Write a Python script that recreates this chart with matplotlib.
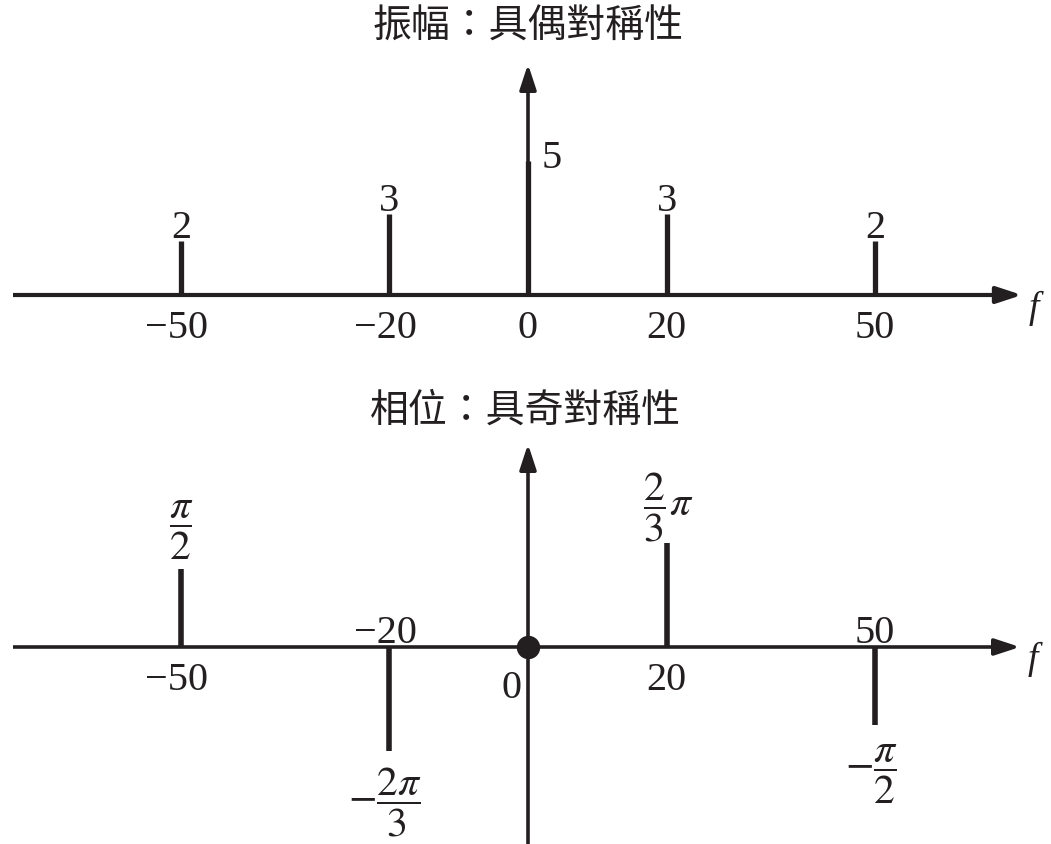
import numpy as np
import matplotlib
matplotlib.use("Agg")
import matplotlib.pyplot as plt

plt.rcParams["mathtext.fontset"] = "stix"

# ---- 資料 ----
amp_freqs = [-50, -20, 0, 20, 50]
amp_values = [2, 3, 5, 3, 2]
amp_labels = ["2", "3", "5", "3", "2"]
freq_labels = ["\u221250", "\u221220", "0", "20", "50"]

phase_freqs = [-50, -20, 0, 20, 50]
phase_values = [np.pi / 2, -2 * np.pi / 3, 0, 2 * np.pi / 3, -np.pi / 2]
phase_labels = [r"$\dfrac{\pi}{2}$", r"$-\dfrac{2\pi}{3}$", "",
                r"$\dfrac{2}{3}\pi$", r"$-\dfrac{\pi}{2}$"]

title_amp = "振幅：具偶對稱性"
title_phase = "相位：具奇對稱性"

# ---- 版面（像素） ----
W, H = 1051, 845
X0 = 528            # f = 0 的位置
PX_F = 6.94         # 每單位頻率的像素
PX_AMP = 26.9       # 振幅每單位像素
PX_PH = 49.7        # 相位每弧度像素
PT = 0.72           # px -> pt

SERIF = "Liberation Serif"
CJK = "Noto Sans CJK TC"
INK = "#231f20"

fig = plt.figure(figsize=(W / 100, H / 100), dpi=100)
fig.patch.set_facecolor("white")

top_h = 400
ax1 = fig.add_axes([0, (H - top_h) / H, 1, top_h / H])
ax2 = fig.add_axes([0, 0, 1, (H - top_h) / H])

xlim = (-X0 / PX_F, (W - X0) / PX_F)
ax1_axis = 296
ax2_axis = 648
ax1.set_xlim(*xlim)
ax1.set_ylim(-(top_h - ax1_axis) / PX_AMP, ax1_axis / PX_AMP)
ax2.set_xlim(*xlim)
ax2.set_ylim(-(H - ax2_axis) / PX_PH, (ax2_axis - top_h) / PX_PH)
for ax in (ax1, ax2):
    ax.axis("off")


def px2f(px):
    return (px - X0) / PX_F


def draw_arrow(ax, start, end, lw):
    ax.annotate("", xy=end, xytext=start,
                arrowprops=dict(arrowstyle="-|>,head_length=0.55,head_width=0.18",
                                mutation_scale=28, lw=lw, color=INK,
                                shrinkA=0, shrinkB=0, capstyle="butt"))


# ---- 上圖：振幅 ----
draw_arrow(ax1, (px2f(13), 0), (px2f(1022), 0), 3.0)
draw_arrow(ax1, (0, 0), (0, (ax1_axis - 65) / PX_AMP), 2.6)
ax1.vlines(amp_freqs, 0, amp_values, color=INK, lw=3.8, capstyle="butt")

for f, v, lab in zip(amp_freqs, amp_values, amp_labels):
    if f == 0:
        ax1.annotate(lab, (f, v), xytext=(14 * PT, -6 * PT), textcoords="offset points",
                     ha="left", va="baseline", fontsize=29, family=SERIF, color=INK)
    else:
        ax1.annotate(lab, (f, v), xytext=(0, 4 * PT), textcoords="offset points",
                     ha="center", va="baseline", fontsize=29, family=SERIF, color=INK)

for f, lab in zip(amp_freqs, freq_labels):
    dx = -4 if f < 0 else 0
    ax1.annotate(lab, (f, 0), xytext=(dx * PT, -42 * PT), textcoords="offset points",
                 ha="center", va="baseline", fontsize=29, family=SERIF, color=INK)

ax1.annotate("f", (px2f(1034), 0), xytext=(0, -12 * PT), textcoords="offset points",
             ha="center", va="center", fontsize=27, family=SERIF, style="italic",
             color=INK)

# ---- 下圖：相位 ----
draw_arrow(ax2, (px2f(13), 0), (px2f(1020), 0), 2.6)
draw_arrow(ax2, (0, ax2.get_ylim()[0]), (0, (ax2_axis - 445) / PX_PH), 2.6)

nz = [i for i, v in enumerate(phase_values) if v != 0]
ax2.vlines([phase_freqs[i] for i in nz], 0, [phase_values[i] for i in nz],
           color=INK, lw=4.0, capstyle="butt")
z = [i for i, v in enumerate(phase_values) if v == 0]
ax2.plot([phase_freqs[i] for i in z], [phase_values[i] for i in z], "o",
         ms=22 * PT, color=INK, zorder=5)

# 數值標籤（分數）
frac_dx = {-50: 0, -20: -4, 20: 1, 50: -4}
frac_dy = {-50: 39, -20: -50, 20: 36, 50: -48}
for f, v, lab in zip(phase_freqs, phase_values, phase_labels):
    if v == 0:
        continue
    ax2.annotate(lab, (f, v), xytext=(frac_dx[f] * PT, frac_dy[f] * PT),
                 textcoords="offset points", ha="center", va="center",
                 fontsize=30, color=INK)

# 頻率標籤：與脈衝反側
for f, v, lab in zip(phase_freqs, phase_values, freq_labels):
    if v == 0:
        ax2.annotate(lab, (f, 0), xytext=(-16 * PT, -50 * PT), textcoords="offset points",
                     ha="center", va="baseline", fontsize=29, family=SERIF, color=INK)
        continue
    dx = -4 if f < 0 else 0
    dy = -42 if v > 0 else 5
    ax2.annotate(lab, (f, 0), xytext=(dx * PT, dy * PT), textcoords="offset points",
                 ha="center", va="baseline", fontsize=29, family=SERIF, color=INK)

ax2.annotate("f", (px2f(1033), 0), xytext=(0, -11 * PT), textcoords="offset points",
             ha="center", va="center", fontsize=27, family=SERIF, style="italic",
             color=INK)

# ---- 標題 ----
fig.text(528 / W, 1 - 27 / H, title_amp, ha="center", va="center",
         fontsize=28, family=CJK, weight="light", color=INK)
fig.text(525 / W, 1 - 411 / H, title_phase, ha="center", va="center",
         fontsize=28, family=CJK, weight="light", color=INK)

fig.savefig("out.png", dpi=100, facecolor="white")
